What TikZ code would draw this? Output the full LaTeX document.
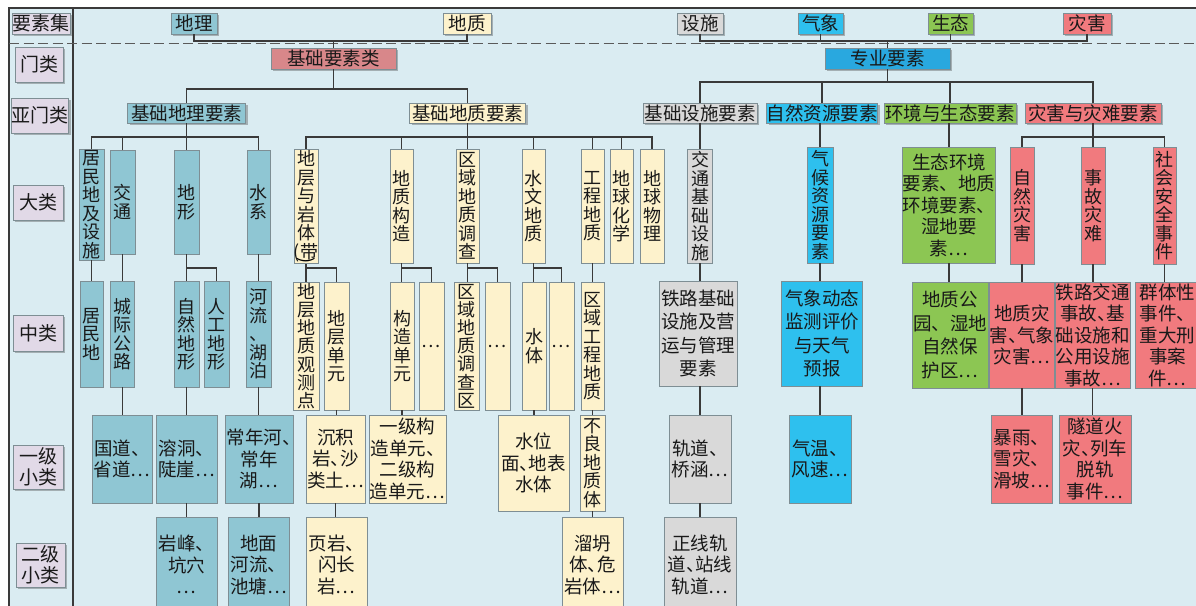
\documentclass[tikz,border=0pt]{standalone}
\usepackage{fontspec}
\setmainfont{Noto Sans CJK SC}
\usetikzlibrary{shadows}

\definecolor{bg}{HTML}{DAECF2}
\definecolor{cgeo}{HTML}{8FC6D3}
\definecolor{cgeol}{HTML}{FDF2CC}
\definecolor{cfac}{HTML}{D9D9D9}
\definecolor{cmet}{HTML}{2EC0EE}
\definecolor{ceco}{HTML}{8CC653}
\definecolor{cdis}{HTML}{F17A7E}
\definecolor{cbase}{HTML}{D8878A}
\definecolor{cpro}{HTML}{29A8DF}
\definecolor{clab}{HTML}{E1D9E7}
\definecolor{cline}{HTML}{3A3A3A}
\definecolor{cedge}{HTML}{7E8E94}
\definecolor{cdash}{HTML}{5A5A5A}

% compact enumeration comma and ellipsis
\newcommand\dn{\makebox[0.5em][l]{、}}
\newcommand\el{…}

\tikzset{
  bx/.style={draw=cedge, line width=0.8pt, inner sep=0pt, outer sep=0pt,
    align=center, text=black!90, font=\fontsize{18.5}{21.5}\selectfont},
  sz/.style 2 args={minimum width=#1pt, minimum height=#2pt},
  shd/.style={drop shadow={shadow xshift=2.2pt, shadow yshift=-2.2pt,
    opacity=0.35, fill=black!75}},
  lab/.style={bx, shd, fill=clab, font=\fontsize{19}{20.5}\selectfont},
  vt/.style={font=\fontsize{18}{18.5}\selectfont},
  vtt/.style={font=\fontsize{18}{18.2}\selectfont},
  ml4/.style={font=\fontsize{18.5}{23.5}\selectfont},
  ln/.style={draw=cline, line width=1.1pt},
}

\begin{document}
\begin{tikzpicture}[x=1pt, y=-1pt]
\path[use as bounding box, clip] (0,0) rectangle (1196,605);

% frame and background
\fill[white] (0,0) rectangle (1196,605);
\fill[bg] (9,8) rectangle (1210,620);
\draw[cline, line width=1.2pt] (1210,8) -- (9,8) -- (9,620);
\draw[cline, line width=1.2pt] (73,8) -- (73,620);
\draw[cdash, line width=1.3pt, dash pattern=on 10pt off 4.5pt] (9,43.5) -- (1210,43.5);

% bus levels
\coordinate (yb0) at (0,41);
\coordinate (yb1) at (0,89);
\coordinate (yb1b) at (0,82);
\coordinate (yb2) at (0,137);
\coordinate (yb3) at (0,268);

% level labels
\node[lab, sz={58}{21}] (sL0) at (41,23.5) {要素集};
\node[lab, sz={48}{35}] (sL1) at (39,64.5) {门类};
\node[lab, sz={56}{35}] (sL2) at (40,115.5) {亚门类};
\node[lab, sz={50}{35}] (sL3) at (38,202.5) {大类};
\node[lab, sz={50}{36}] (sL4) at (38,333) {中类};
\node[lab, sz={50}{44}] (sL5) at (38,467) {一级\\小类};
\node[lab, sz={49}{44}] (sL6) at (40.5,565) {二级\\小类};

% element sets
\node[bx, shd, fill=cgeo,  sz={46}{21}] (eGeo)  at (194,23.5)  {地理};
\node[bx, shd, fill=cgeol, sz={48}{21}] (eGeol) at (467,23.5)  {地质};
\node[bx, shd, fill=cfac,  sz={46}{21}] (eFac)  at (700,23.5)  {设施};
\node[bx, shd, fill=cmet,  sz={45}{21}] (eMet)  at (820.5,23.5) {气象};
\node[bx, shd, fill=ceco,  sz={45}{21}] (eEco)  at (950.5,23.5) {生态};
\node[bx, shd, fill=cdis,  sz={48}{21}] (eDis)  at (1087,23.5) {灾害};

% gates
\node[bx, shd, fill=cbase, sz={125}{21}] (cBase) at (333.5,58.5) {基础要素类};
\node[bx, shd, fill=cpro,  sz={125}{21}] (cPro)  at (887.5,58.5) {专业要素};

% sub-gates
\node[bx, shd, fill=cgeo,  sz={118}{20}] (sGeo)  at (186.5,113) {基础地理要素};
\node[bx, shd, fill=cgeol, sz={116}{20}] (sGeol) at (467.5,113) {基础地质要素};
\node[bx, shd, fill=cfac,  sz={114}{20}] (sFac)  at (700,113) {基础设施要素};
\node[bx, shd, fill=cmet,  sz={111}{20}] (sRes)  at (822,113) {自然资源要素};
\node[bx, shd, fill=ceco,  sz={132}{20}] (sEnv)  at (950,113) {环境与生态要素};
\node[bx, shd, fill=cdis,  sz={136}{20}] (sDis)  at (1093,113) {灾害与灾难要素};

% major classes
\node[bx, vt, fill=cgeo, sz={25}{111}] (gRes)  at (91.5,204.5) {居\\民\\地\\及\\设\\施};
\node[bx, vt, fill=cgeo, sz={25}{104}] (gTra)  at (122.5,202) {交\\通};
\node[bx, vt, fill=cgeo, sz={25}{104}] (gLand) at (186.5,202) {地\\形};
\node[bx, vt, fill=cgeo, sz={23}{104}] (gWat)  at (258.5,202) {水\\系};

\node[bx, vt, fill=cgeol, sz={24}{114}] (kStr) at (306,206) {地\\层\\与\\岩\\体\\(带};
\node[vt, inner sep=0pt] (kStrP) at (306,261) {\rotatebox{-90}{)}};
\node[bx, vt, fill=cgeol, sz={23}{114}] (kTec) at (401.5,206) {地\\质\\构\\造};
\node[bx, vt, fill=cgeol, sz={23}{114}] (kSur) at (467.5,206) {区\\域\\地\\质\\调\\查};
\node[bx, vt, fill=cgeol, sz={23}{114}] (kHyd) at (533.5,206) {水\\文\\地\\质};
\node[bx, vt, fill=cgeol, sz={23}{114}] (kEng) at (592.5,206) {工\\程\\地\\质};
\node[bx, vt, fill=cgeol, sz={23}{114}] (kChe) at (621.5,206) {地\\球\\化\\学};
\node[bx, vt, fill=cgeol, sz={24}{114}] (kPhy) at (652,206) {地\\球\\物\\理};

\node[bx, vt, fill=cfac, sz={25}{114}] (fTra) at (700,206) {交\\通\\基\\础\\设\\施};
\node[bx, vt, fill=cmet, sz={26}{116}] (mCli) at (820,205) {气\\候\\资\\源\\要\\素};
\node[bx, fill=ceco, sz={92}{116}] (vEco) at (949,205) {生态环境\\要素、地质\\环境要素、\\湿地要\\素\el};
\node[bx, vt, fill=cdis, sz={24}{117}] (dNat) at (1022,205.5) {自\\然\\灾\\害};
\node[bx, vt, fill=cdis, sz={24}{117}] (dAcc) at (1093,205.5) {事\\故\\灾\\难};
\node[bx, vt, fill=cdis, sz={23}{117}] (dSoc) at (1164.5,205.5) {社\\会\\安\\全\\事\\件};

% middle classes
\node[bx, vt, fill=cgeo, sz={23}{106}] (mRes)  at (91.5,334)  {居\\民\\地};
\node[bx, vt, fill=cgeo, sz={24}{106}] (mRoad) at (122.5,334) {城\\际\\公\\路};
\node[bx, vt, fill=cgeo, sz={25}{106}] (mNat)  at (186.5,334) {自\\然\\地\\形};
\node[bx, vt, fill=cgeo, sz={25}{106}] (mArt)  at (216.5,334) {人\\工\\地\\形};
\node[bx, vt, fill=cgeo, sz={25}{106}] (mRiv)  at (258.5,334) {河\\流\\、\\湖\\泊};

\node[bx, vtt, fill=cgeol, sz={26}{128}] (mObs)  at (306,346)   {地\\层\\地\\质\\观\\测\\点};
\node[bx, vt,  fill=cgeol, sz={25}{128}] (mUnit) at (336.5,346) {地\\层\\单\\元};
\node[bx, vt,  fill=cgeol, sz={24}{128}] (mTec)  at (402,346)   {构\\造\\单\\元};
\node[bx, vt,  fill=cgeol, sz={25}{128}] (mTecX) at (431.5,346) {\el};
\node[bx, vtt, fill=cgeol, sz={25}{128}] (mSur)  at (466.5,346) {区\\域\\地\\质\\调\\查\\区};
\node[bx, vt,  fill=cgeol, sz={25}{128}] (mSurX) at (497.5,346) {\el};
\node[bx, vt,  fill=cgeol, sz={24}{128}] (mWat)  at (534,346)   {水\\体};
\node[bx, vt,  fill=cgeol, sz={25}{128}] (mWatX) at (561.5,346) {\el};
\node[bx, vt,  fill=cgeol, sz={23}{128}] (mEng)  at (592.5,346) {区\\域\\工\\程\\地\\质};

\node[bx, ml4, fill=cfac, sz={78}{105}] (mRail) at (698,333.5) {铁路基础\\设施及营\\运与管理\\要素};
\node[bx, ml4, fill=cmet, sz={81}{105}] (mMet)  at (822,333.5) {气象动态\\监测评价\\与天气\\预报};
\node[bx, ml4, fill=ceco, sz={76}{106}] (mPark) at (950,335)   {地质公\\园、湿地\\自然保\\护区\el};
\node[bx, fill=cdis, sz={62}{106}] (mGeo) at (1022,335)   {地质灾\\害\dn 气象\\灾害\el};
\node[bx, fill=cdis, sz={75}{106}] (mAcc) at (1092.5,335) {铁路交通\\事故\dn 基\\础设施和\\公用设施\\事故\el};
\node[bx, fill=cdis, sz={65}{106}, text width=58pt] (mSoc) at (1167.5,335) {群体性\\事件、\\重大刑\\事案\\件\el};

% first-level minor classes
\node[bx, fill=cgeo,  sz={60}{88}] (aRoad) at (122,459)   {国道、\\省道\el};
\node[bx, fill=cgeo,  sz={61}{88}] (aCave) at (186.5,459) {溶洞、\\陡崖\el};
\node[bx, fill=cgeo,  sz={68}{88}] (aRiv)  at (259,459)   {常年河\dn\\常年\\湖\el};
\node[bx, fill=cgeol, sz={59}{88}] (aSed)  at (335.5,459) {沉积\\岩\dn 沙\\类土\el};
\node[bx, fill=cgeol, sz={77}{88}] (aTec)  at (407.5,459) {一级构\\造单元、\\二级构\\造单元\el};
\node[bx, fill=cgeol, sz={71}{96}] (aWat)  at (533.5,463) {水位\\面\dn 地表\\水体};
\node[bx, vt, fill=cgeol, sz={25}{96}] (aBad) at (592.5,463) {不\\良\\地\\质\\体};
\node[bx, fill=cfac,  sz={62}{88}] (aTrack) at (700,459)  {轨道、\\桥涵\el};
\node[bx, fill=cmet,  sz={62}{88}] (aTemp)  at (820,459)  {气温、\\风速\el};
\node[bx, fill=cdis,  sz={61}{88}] (aRain)  at (1021.5,459) {暴雨、\\雪灾、\\滑坡\el};
\node[bx, fill=cdis,  sz={72}{88}] (aTun)   at (1095,459) {隧道火\\灾\dn 列车\\脱轨\\事件\el};

% second-level minor classes
\node[bx, fill=cgeo,  sz={61}{95}] (bPeak)  at (186.5,564.5) {岩峰、\\坑穴\\\el};
\node[bx, fill=cgeo,  sz={61}{95}] (bPond)  at (258.5,564.5) {地面\\河流、\\池塘\el};
\node[bx, fill=cgeol, sz={61}{95}] (bShale) at (336.5,564.5) {页岩、\\闪长\\岩\el};
\node[bx, fill=cgeol, sz={61}{95}] (bSlide) at (592.5,564.5) {溜坍\\体\dn 危\\岩体\el};
\node[bx, fill=cfac,  sz={72}{95}] (bLine)  at (700,564.5)   {正线轨\\道\dn 站线\\轨道\el};

% connectors: element sets to gates
\foreach \s in {eGeo,eGeol}
  \draw[ln] (\s.south) -- (\s.south |- yb0) -| (cBase.north);
\foreach \s in {eFac,eMet,eEco,eDis}
  \draw[ln] (\s.south) -- (\s.south |- yb0) -| (cPro.north);

% gates to sub-gates
\foreach \c in {sGeo,sGeol}
  \draw[ln] (cBase.south) -- (cBase.south |- yb1) -| (\c.north);
\foreach \c in {sFac,sRes,sEnv,sDis}
  \draw[ln] (cPro.south) -- (cPro.south |- yb1b) -| (\c.north);

% sub-gates to major classes
\foreach \c in {gRes,gTra,gLand,gWat}
  \draw[ln] (sGeo.south) -- (sGeo.south |- yb2) -| (\c.north);
\foreach \c in {kStr,kTec,kSur,kHyd,kEng,kChe,kPhy}
  \draw[ln] (sGeol.south) -- (sGeol.south |- yb2) -| (\c.north);
\foreach \c in {dNat,dAcc,dSoc}
  \draw[ln] (sDis.south) -- (sDis.south |- yb2) -| (\c.north);
\draw[ln] (sFac.south) -- (fTra.north);
\draw[ln] (mCli.north |- sRes.south) -- (mCli.north);
\draw[ln] (vEco.north |- sEnv.south) -- (vEco.north);

% major to middle classes
\draw[ln] (gRes.south) -- (mRes.north);
\draw[ln] (gTra.south) -- (mRoad.north);
\draw[ln] (gLand.south) -- (mNat.north);
\draw[ln] (gLand.south |- yb3) -| (mArt.north);
\draw[ln] (gWat.south) -- (mRiv.north);
\draw[ln] (kStrP.south) -- (mObs.north);
\draw[ln] (kStr.south |- yb3) -| (mUnit.north);
\draw[ln] (kTec.south) -- (kTec.south |- mTec.north);
\draw[ln] (kTec.south |- yb3) -| (mTecX.north);
\draw[ln] (kSur.south) -- (kSur.south |- mSur.north);
\draw[ln] (kSur.south |- yb3) -| (mSurX.north);
\draw[ln] (kHyd.south) -- (kHyd.south |- mWat.north);
\draw[ln] (kHyd.south |- yb3) -| (mWatX.north);
\draw[ln] (kEng.south) -- (mEng.north);
\draw[ln] (fTra.south) -- (fTra.south |- mRail.north);
\draw[ln] (mCli.south) -- (mCli.south |- mMet.north);
\draw[ln] (vEco.south) -- (vEco.south |- mPark.north);
\draw[ln] (dNat.south) -- (mGeo.north);
\draw[ln] (dAcc.south) -- (dAcc.south |- mAcc.north);
\draw[ln] (dSoc.south) -- (dSoc.south |- mSoc.north);

% middle to first-level minor classes
\draw[ln] (mRoad.south) -- (mRoad.south |- aRoad.north);
\draw[ln] (mNat.south) -- (aCave.north);
\draw[ln] (mRiv.south) -- (mRiv.south |- aRiv.north);
\draw[ln] (mUnit.south) -- (mUnit.south |- aSed.north);
\draw[ln] (mTec.south) -- (mTec.south |- aTec.north);
\draw[ln] (mWat.south) -- (mWat.south |- aWat.north);
\draw[ln] (mEng.south) -- (aBad.north);
\draw[ln] (aTrack.north |- mRail.south) -- (aTrack.north);
\draw[ln] (aTemp.north |- mMet.south) -- (aTemp.north);
\draw[ln] (mGeo.south) -- (mGeo.south |- aRain.north);
\draw[ln] (mAcc.south) -- (mAcc.south |- aTun.north);

% first- to second-level minor classes
\draw[ln] (aCave.south) -- (bPeak.north);
\draw[ln] (aRiv.south) -- (aRiv.south |- bPond.north);
\draw[ln] (aSed.south) -- (aSed.south |- bShale.north);
\draw[ln] (aBad.south) -- (bSlide.north);
\draw[ln] (aTrack.south) -- (bLine.north);
\end{tikzpicture}
\end{document}
